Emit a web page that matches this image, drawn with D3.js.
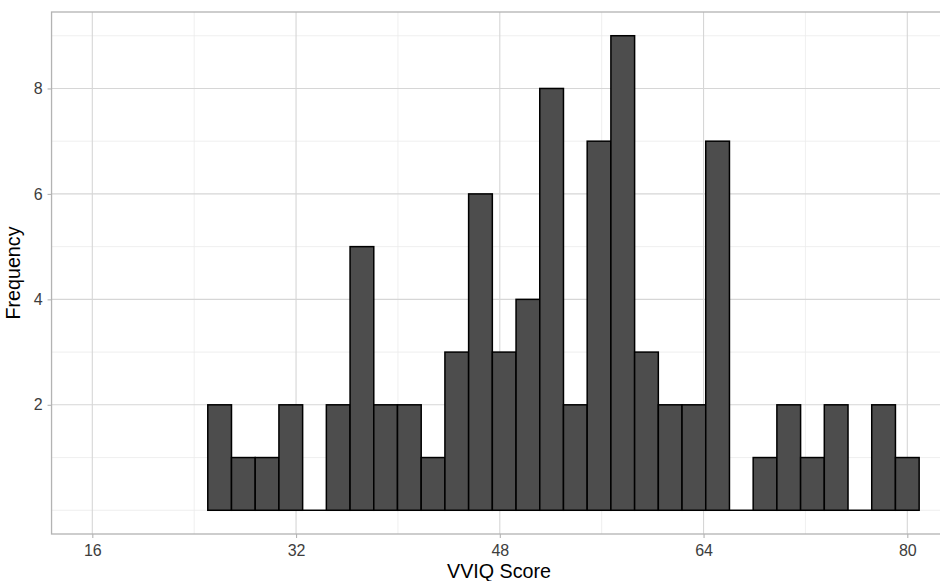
<!DOCTYPE html>
<html>
<head>
<meta charset="utf-8">
<script src="https://cdn.jsdelivr.net/npm/d3@7"></script>
<style>
  html, body { margin: 0; padding: 0; background: #fff; }
  svg { display: block; font-family: "Liberation Sans", Arial, Helvetica, sans-serif; }
</style>
</head>
<body>
<svg id="chart" width="940" height="581"></svg>
<script>
// ---- data ----
const binCounts = [2, 1, 1, 2, 0, 2, 5, 2, 2, 1, 3, 6, 3, 4, 8, 2, 7, 9, 3, 2, 2, 7, 0, 1, 2, 1, 2, 0, 2, 1];
const scoreMin = 26;
const scoreMax = 80;
const xTicks = [16, 32, 48, 64, 80];
const xMinorTicks = [24, 40, 56, 72];
const yTicks = [2, 4, 6, 8];
const yMinorTicks = [0, 1, 3, 5, 7, 9];
const xTitle = "VVIQ Score";
const yTitle = "Frequency";

(function () {
const svg = d3.select("#chart");
const nb = binCounts.length;
const bw = (scoreMax - scoreMin) / (nb - 1);
const bins = binCounts.map((c, i) => ({
  x0: scoreMin - bw / 2 + i * bw,
  x1: scoreMin + bw / 2 + i * bw,
  count: c
}));

const x = d3.scaleLinear().domain([16, 80]).range([92.3, 907.3]);
const xLo = 16 - 0.05 * 64, xHi = 80 + 0.05 * 64;
const y = d3.scaleLinear().domain([-0.45, 9.45]).range([534, 12]);

const pL = x(xLo), pR = x(xHi), pT = y(9.45), pB = y(-0.45);

const grid = svg.append("g");
grid.selectAll(".ymin").data(yMinorTicks).join("line")
  .attr("x1", pL).attr("x2", pR)
  .attr("y1", d => y(d)).attr("y2", d => y(d))
  .attr("stroke", "#ebebeb").attr("stroke-width", 0.8);
grid.selectAll(".xmin").data(xMinorTicks).join("line")
  .attr("y1", pT).attr("y2", pB)
  .attr("x1", d => x(d)).attr("x2", d => x(d))
  .attr("stroke", "#ebebeb").attr("stroke-width", 0.8);
grid.selectAll(".ymaj").data(yTicks).join("line")
  .attr("x1", pL).attr("x2", pR)
  .attr("y1", d => y(d)).attr("y2", d => y(d))
  .attr("stroke", "#d6d6d6").attr("stroke-width", 1.1);
grid.selectAll(".xmaj").data(xTicks).join("line")
  .attr("y1", pT).attr("y2", pB)
  .attr("x1", d => x(d)).attr("x2", d => x(d))
  .attr("stroke", "#d6d6d6").attr("stroke-width", 1.1);

// bars (non-empty bins)
svg.append("g").selectAll("rect").data(bins.filter(d => d.count > 0)).join("rect")
  .attr("x", d => x(d.x0))
  .attr("width", d => x(d.x1) - x(d.x0))
  .attr("y", d => y(d.count))
  .attr("height", d => y(0) - y(d.count))
  .attr("fill", "#4d4d4d")
  .attr("stroke", "#000")
  .attr("stroke-width", 1.5);
// empty bins drawn as flat outline at zero
svg.append("g").selectAll("line").data(bins.filter(d => d.count === 0)).join("line")
  .attr("x1", d => x(d.x0)).attr("x2", d => x(d.x1))
  .attr("y1", y(0)).attr("y2", y(0))
  .attr("stroke", "#000").attr("stroke-width", 1.5);

// panel border
svg.append("rect")
  .attr("x", pL).attr("y", pT)
  .attr("width", pR - pL).attr("height", pB - pT)
  .attr("fill", "none").attr("stroke", "#b3b3b3").attr("stroke-width", 1.3);

// axes
const xAxis = svg.append("g").attr("transform", `translate(0,${pB})`)
  .call(d3.axisBottom(x).tickValues(xTicks).tickSize(4).tickPadding(6.3).tickFormat(d3.format("d")));
const yAxis = svg.append("g").attr("transform", `translate(${pL},0)`)
  .call(d3.axisLeft(y).tickValues(yTicks).tickSize(4).tickPadding(5).tickFormat(d3.format("d")));
[xAxis, yAxis].forEach(a => {
  a.select(".domain").remove();
  a.selectAll(".tick line").attr("stroke", "#b3b3b3").attr("stroke-width", 1.1);
  a.selectAll(".tick text").attr("fill", "#3d3d3d").style("font-size", "16px")
    .style("font-family", "'Liberation Sans', Arial, sans-serif");
});

// titles
svg.append("text")
  .attr("x", 499).attr("y", 578)
  .attr("text-anchor", "middle")
  .style("font-size", "19.7px").attr("fill", "#000")
  .text(xTitle);
svg.append("text")
  .attr("transform", `translate(20,${(pT + pB) / 2}) rotate(-90)`)
  .attr("text-anchor", "middle")
  .style("font-size", "19.7px").attr("fill", "#000")
  .text(yTitle);
})();
</script>
</body>
</html>
